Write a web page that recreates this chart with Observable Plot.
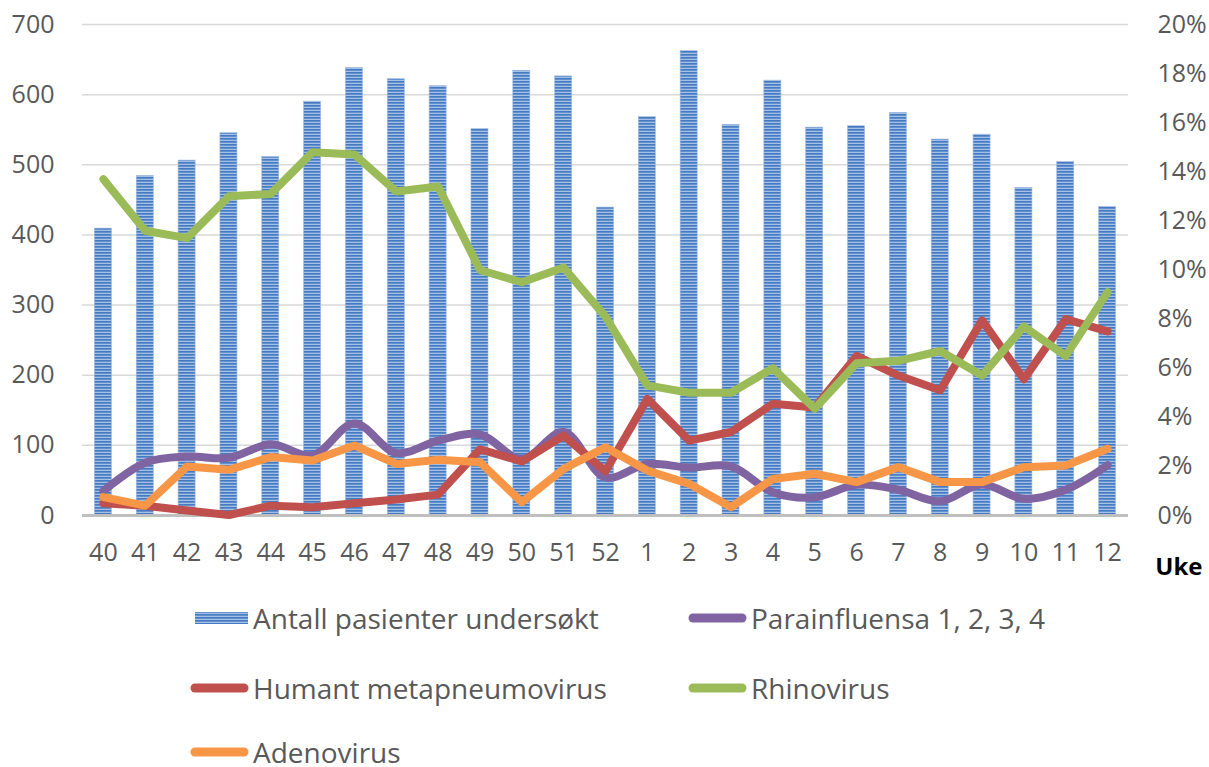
<!DOCTYPE html>
<html>
<head>
<meta charset="utf-8">
<script src="https://cdn.jsdelivr.net/npm/d3@7"></script>
<script src="https://cdn.jsdelivr.net/npm/@observablehq/plot@0.6"></script>
<style>
  body { margin: 0; background: #fff; }
  #wrap { position: relative; width: 1209px; height: 767px; font-family: "Open Sans", sans-serif; color: #595959; overflow: hidden; }
  #legend { position: relative; width: 1209px; height: 167px; }
  .item { position: absolute; display: flex; align-items: center; height: 30px; line-height: 30px; font-size: 28px; white-space: nowrap; }
  .item svg { display: block; margin-right: 4px; }
</style>
</head>
<body>
<div id="wrap">
  <div id="chart"></div>
  <div id="legend"></div>
</div>
<script>
const weeks = ["40","41","42","43","44","45","46","47","48","49","50","51","52","1","2","3","4","5","6","7","8","9","10","11","12"];
const patients = [409,484,506,545,511,590,638,622,612,551,634,626,439,568,662,557,620,553,555,574,536,543,467,504,440];
// percent of positives (right axis)
const parainfluensa = [1.0,2.15,2.4,2.35,2.9,2.45,3.75,2.55,3.05,3.3,2.3,3.4,1.55,2.1,1.95,2.0,0.95,0.74,1.25,1.05,0.58,1.26,0.68,1.05,2.05];
const metapneumo = [0.5,0.4,0.2,0.02,0.4,0.34,0.5,0.65,0.85,2.7,2.2,3.25,1.8,4.75,3.05,3.4,4.55,4.4,6.5,5.7,5.1,7.95,5.55,8.0,7.5];
const rhinovirus = [13.7,11.6,11.3,13.0,13.1,14.8,14.7,13.2,13.4,10.0,9.5,10.1,8.1,5.3,5.0,5.0,6.0,4.35,6.2,6.3,6.7,5.7,7.7,6.5,9.1];
const adenovirus = [0.75,0.4,2.0,1.86,2.38,2.24,2.85,2.1,2.27,2.17,0.54,1.9,2.78,1.83,1.29,0.34,1.49,1.7,1.36,1.97,1.36,1.36,1.97,2.04,2.72];
const leftTicks = [0,100,200,300,400,500,600,700];
const rightTicks = [0,2,4,6,8,10,12,14,16,18,20];
const seriesNames = ["Antall pasienter undersøkt","Parainfluensa 1, 2, 3, 4","Humant metapneumovirus","Rhinovirus","Adenovirus"];
const colors = {bar:"#4F81BD", para:"#8064A2", meta:"#C0504D", rhino:"#9BBB59", adeno:"#F79646"};

const pctToLeft = 700 / 20; // 20% on right axis = 700 on left axis
const barData = weeks.map((w, i) => ({week: w, value: patients[i]}));
const mk = arr => weeks.map((w, i) => ({week: w, pct: arr[i]}));

const lineOpts = (stroke, curve) => ({x: "week", y: d => d.pct * pctToLeft, stroke, strokeWidth: 8, strokeLinecap: "round", strokeLinejoin: "round", curve});

const chart = Plot.plot({
  width: 1209,
  height: 600,
  marginLeft: 82,
  marginRight: 81,
  marginTop: 24,
  marginBottom: 85,
  style: {fontFamily: "Open Sans, sans-serif", fontSize: "25px", color: "#595959", background: "white", overflow: "visible"},
  x: {type: "band", domain: weeks, padding: 0, round: false},
  y: {domain: [0, 700]},
  marks: [
    Plot.gridY(leftTicks.filter(d => d > 0), {stroke: "#D9D9D9", strokeOpacity: 1, strokeWidth: 1.5}),
    Plot.axisY({ticks: leftTicks, anchor: "left", tickSize: 0, tickPadding: 28, label: null, fontSize: 25}),
    Plot.axisY({ticks: rightTicks.map(d => d * pctToLeft), anchor: "right", tickSize: 0, tickPadding: 29, label: null, fontSize: 25,
      tickFormat: d => Math.round(d / pctToLeft) + "%"}),
    Plot.axisX({tickSize: 0, tickPadding: 28, label: null, fontSize: 25}),
    Plot.barY(barData, {x: "week", y: "value", fill: "url(#stripes)", stroke: "#9DB8DE", strokeWidth: 0.6, insetLeft: 12.4, insetRight: 12.4}),
    Plot.ruleY([0], {stroke: "#BFBFBF", strokeWidth: 3}),
    Plot.line(mk(parainfluensa), lineOpts(colors.para, "catmull-rom")),
    Plot.line(mk(metapneumo), lineOpts(colors.meta, "linear")),
    Plot.line(mk(rhinovirus), lineOpts(colors.rhino, "linear")),
    Plot.line(mk(adenovirus), lineOpts(colors.adeno, "linear")),
    Plot.text(["Uke"], {frameAnchor: "bottom-right", dx: 74, dy: 59, textAnchor: "end", fontWeight: "bold", fontSize: 24, fill: "#000"})
  ]
});

const defs = d3.select(chart).insert("defs", ":first-child");
function addPattern(sel, id) {
  const p = sel.append("pattern").attr("id", id).attr("patternUnits", "userSpaceOnUse").attr("width", 6).attr("height", 3);
  p.append("rect").attr("width", 6).attr("height", 3).attr("fill", "#A4C0E6");
  p.append("rect").attr("width", 6).attr("height", 1.7).attr("fill", "#467BC2");
}
addPattern(defs, "stripes");
document.getElementById("chart").appendChild(chart);

// Legend
const legendItems = [
  {name: seriesNames[0], type: "bar", x: 195, y: 18},
  {name: seriesNames[1], type: "line", color: colors.para, x: 688, y: 18},
  {name: seriesNames[2], type: "line", color: colors.meta, x: 190, y: 88},
  {name: seriesNames[3], type: "line", color: colors.rhino, x: 688, y: 88},
  {name: seriesNames[4], type: "line", color: colors.adeno, x: 190, y: 152}
];
const legend = d3.select("#legend");
legendItems.forEach(it => {
  const div = legend.append("div").attr("class", "item").style("left", it.x + "px").style("top", (it.y - 15) + "px");
  if (it.type === "bar") {
    const s = div.append("svg").attr("width", 54).attr("height", 14);
    addPattern(s.append("defs"), "stripesLegend");
    s.append("rect").attr("x", 0).attr("y", 1).attr("width", 53).attr("height", 12).attr("fill", "url(#stripesLegend)");
    s.style("margin-right", "4px");
  } else {
    const s = div.append("svg").attr("width", 59).attr("height", 14);
    s.append("line").attr("x1", 5).attr("x2", 54).attr("y1", 7).attr("y2", 7)
      .attr("stroke", it.color).attr("stroke-width", 9).attr("stroke-linecap", "round");
  }
  div.append("span").text(it.name);
});
</script>
</body>
</html>
